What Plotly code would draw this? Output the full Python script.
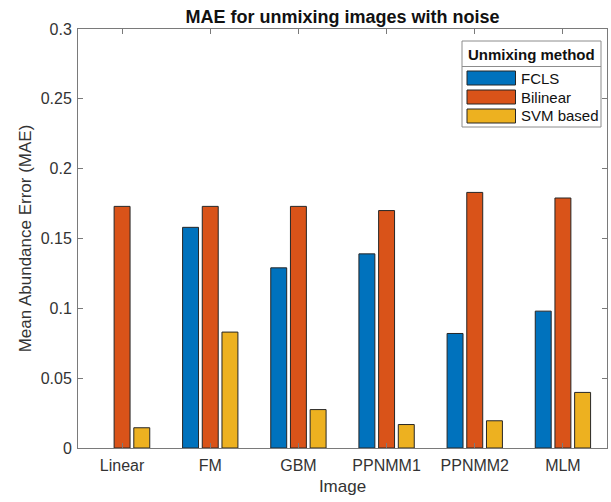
import plotly.graph_objects as go

# Test images and mean abundance error per unmixing method
images = ["Linear", "FM", "GBM", "PPNMM1", "PPNMM2", "MLM"]
fcls = [None, 0.158, 0.129, 0.139, 0.082, 0.098]
bilinear = [0.173, 0.173, 0.173, 0.170, 0.183, 0.179]
svm_based = [0.0145, 0.083, 0.0275, 0.0168, 0.0195, 0.0398]

method_names = ["FCLS", "Bilinear", "SVM based"]
method_values = [fcls, bilinear, svm_based]
method_colors = ["#0072BD", "#D95319", "#EDB120"]

y_ticks = [0, 0.05, 0.1, 0.15, 0.2, 0.25, 0.3]
y_tick_labels = ["0", "0.05", "0.1", "0.15", "0.2", "0.25", "0.3"]

FONT = "Liberation Sans, Arial, Helvetica, sans-serif"
AXIS_COLOR = "#7a7a7a"
TEXT_COLOR = "#333333"

fig = go.Figure()
for name, vals, color in zip(method_names, method_values, method_colors):
    fig.add_trace(go.Bar(
        x=images, y=vals, name=name,
        marker=dict(color=color, line=dict(color="#262626", width=1)),
        showlegend=False,
    ))

W, H = 611, 502
L, R, T, B = 78, 4, 29, 54

fig.update_layout(
    width=W, height=H,
    margin=dict(l=L, r=R, t=T, b=B),
    paper_bgcolor="white", plot_bgcolor="white",
    barmode="group", bargap=0.33, bargroupgap=0.19,
    font=dict(family=FONT, size=16, color=TEXT_COLOR),
    title=dict(text="<b>MAE for unmixing images with noise</b>",
               x=(L + (W - R)) / 2 / W, xanchor="center",
               y=1 - 17 / H, yanchor="middle",
               font=dict(family=FONT, size=18, color="#111111")),
    xaxis=dict(
        type="category", range=[-0.5, 5.5],
        showline=True, linecolor=AXIS_COLOR, linewidth=1, mirror="ticks",
        ticks="inside", ticklen=5, tickcolor=AXIS_COLOR,
        ticklabelstandoff=3,
        showgrid=False, zeroline=False,
        tickfont=dict(size=16, color=TEXT_COLOR),
        title=dict(text="Image", font=dict(size=17, color=TEXT_COLOR), standoff=6),
    ),
    yaxis=dict(
        range=[0, 0.3],
        tickvals=y_ticks, ticktext=y_tick_labels,
        showline=True, linecolor=AXIS_COLOR, linewidth=1, mirror="ticks",
        ticks="inside", ticklen=5, tickcolor=AXIS_COLOR,
        ticklabelstandoff=2,
        showgrid=False, zeroline=False,
        tickfont=dict(size=16, color=TEXT_COLOR),
        title=dict(text="Mean Abundance Error (MAE)", font=dict(size=17, color=TEXT_COLOR), standoff=4),
    ),
)

# Legend box with a titled header, laid out in pixel space
def to_xp(x):
    return (x - L) / (W - L - R)

def to_yp(y):
    return (H - B - y) / (H - T - B)

box_l, box_r, box_t, box_b = 462, 601, 41, 127
sep_y = 66.5
shapes = [
    dict(type="rect", xref="paper", yref="paper",
         x0=to_xp(box_l), x1=to_xp(box_r), y0=to_yp(box_b), y1=to_yp(box_t),
         fillcolor="white", line=dict(color="#8c8c8c", width=1), layer="above"),
    dict(type="line", xref="paper", yref="paper",
         x0=to_xp(box_l), x1=to_xp(box_r), y0=to_yp(sep_y), y1=to_yp(sep_y),
         line=dict(color="#8c8c8c", width=1), layer="above"),
]

annotations = [dict(
    text="<b>Unmixing method</b>", xref="paper", yref="paper",
    x=to_xp((box_l + box_r) / 2), y=to_yp(54), xanchor="center", yanchor="middle",
    showarrow=False, font=dict(family=FONT, size=15, color="#111111"),
)]

row_y = [78, 97, 116]
for name, color, cy in zip(method_names, method_colors, row_y):
    shapes.append(dict(
        type="rect", xref="paper", yref="paper",
        x0=to_xp(467), x1=to_xp(515.5), y0=to_yp(cy + 7), y1=to_yp(cy - 7),
        fillcolor=color, line=dict(color="#262626", width=1), layer="above",
    ))
    annotations.append(dict(
        text=name, xref="paper", yref="paper",
        x=to_xp(519), y=to_yp(cy), xanchor="left", yanchor="middle",
        showarrow=False, font=dict(family=FONT, size=15, color="#111111"),
    ))

fig.update_layout(shapes=shapes, annotations=annotations)

fig.write_html("out.html")
